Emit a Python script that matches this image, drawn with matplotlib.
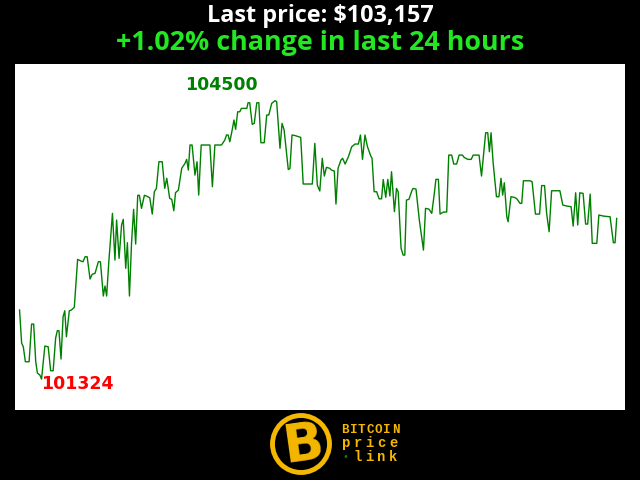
import numpy as np
import matplotlib
matplotlib.use("Agg")
import matplotlib.pyplot as plt
from matplotlib.patches import Circle

# minutes since start of the 24h window
minutes = [0, 5, 9, 14, 23, 29, 34, 39, 43, 49, 53, 61, 69, 75, 81, 87, 91, 95, 100, 105,
           109, 113, 120, 125, 132, 140, 148, 153, 158, 163, 170, 175, 182, 190, 195, 202, 206, 210, 215, 224,
           230, 234, 240, 246, 250, 256, 260, 265, 270, 275, 280, 285, 289, 294, 301, 306, 314, 320, 325, 330,
           336, 344, 350, 355, 362, 367, 372, 376, 383, 391, 399, 403, 407, 411, 416, 423, 428, 432, 438, 459,
           465, 471, 487, 495, 499, 503, 507, 513, 517, 521, 526, 531, 535, 548, 551, 555, 561, 566, 572, 577,
           582, 590, 596, 601, 608, 616, 620, 628, 633, 638, 648, 652, 657, 664, 678, 684, 706, 712, 718, 724,
           730, 735, 740, 748, 752, 759, 763, 768, 775, 779, 785, 793, 801, 809, 817, 822, 827, 833, 839, 847,
           850, 855, 861, 867, 873, 877, 883, 888, 893, 897, 904, 909, 913, 920, 925, 929, 933, 939, 946, 949,
           956, 964, 974, 979, 987, 994, 1000, 1004, 1010, 1014, 1022, 1030, 1035, 1042, 1047, 1054, 1060, 1068, 1072, 1081,
           1089, 1094, 1108, 1114, 1124, 1129, 1133, 1137, 1142, 1150, 1156, 1161, 1165, 1169, 1175, 1178, 1185, 1193, 1199, 1207,
           1211, 1215, 1231, 1236, 1244, 1254, 1259, 1266, 1271, 1277, 1283, 1303, 1310, 1319, 1330, 1335, 1341, 1346, 1351, 1359,
           1365, 1370, 1376, 1381, 1392, 1397, 1408, 1424, 1432, 1436, 1440]

prices = [102112, 101735, 101693, 101522, 101522, 101952, 101952, 101522, 101393, 101370, 101324, 101701, 101693, 101419, 101419, 101792, 101876, 101876, 101553, 102035,
          102104, 101807, 102104, 102112, 102143, 102690, 102671, 102663, 102720, 102720, 102466, 102519, 102531, 102663, 102663, 102272, 102386, 102272, 102648, 103215,
          102682, 103139, 102702, 103082, 103147, 102588, 102880, 102272, 102873, 103261, 102865, 103421, 103421, 103272, 103421, 103413, 103393, 103207, 103462, 103500,
          103804, 103804, 103500, 103615, 103386, 103375, 103245, 103450, 103481, 103729, 103786, 103831, 103709, 103995, 103995, 103652, 103804, 103424, 103995, 103995,
          103519, 103995, 103995, 104052, 104109, 104109, 104032, 104174, 104280, 104174, 104374, 104374, 104413, 104413, 104477, 104477, 104231, 104242, 104477, 104477,
          104021, 104021, 104337, 104337, 104470, 104500, 104489, 103957, 104242, 104166, 103715, 103726, 104109, 104103, 104082, 103550, 103550, 104014, 103538, 103470,
          103843, 103641, 103740, 103729, 103709, 103698, 103321, 103729, 103823, 103843, 103778, 103861, 103975, 104006, 104006, 104109, 103831, 104109, 103975, 103869,
          103843, 103462, 103462, 103381, 103381, 103601, 103398, 103603, 103413, 103690, 103234, 103500, 103462, 102816, 102739, 102739, 103367, 103375, 103473, 103500,
          103492, 103139, 102796, 103272, 103264, 103215, 103435, 103603, 103603, 103207, 103230, 103230, 103880, 103880, 103778, 103778, 103880, 103880, 103854, 103831,
          103831, 103880, 103880, 103641, 104135, 104135, 103918, 104135, 103793, 103405, 103405, 103615, 103424, 103564, 103176, 103119, 103405, 103398, 103382, 103329,
          103329, 103587, 103587, 103576, 103207, 103207, 103532, 103532, 103215, 103005, 103473, 103473, 103310, 103299, 103291, 103070, 103450, 103082, 103450, 103443,
          103093, 103093, 103435, 102873, 102873, 103196, 103184, 103176, 102880, 102880, 103157]

last_price = prices[-1]
change_pct = 1.02

fig = plt.figure(figsize=(6.4, 4.8), dpi=100, facecolor="black")
ax = fig.add_axes([15 / 640, 70 / 480, 610 / 640, 346 / 480])
ax.set_facecolor("white")
ax.plot(minutes, prices, color="green", linewidth=1)

lo, hi = min(prices), max(prices)
span = hi - lo
ax.set_xlim(-11, 1460)
ax.set_ylim(lo - 0.111 * span, hi + 0.132 * span)
ax.set_xticks([]), ax.set_yticks([])
for s in ax.spines.values():
    s.set_visible(False)

imin = int(np.argmin(prices))
ax.text(minutes[imin], lo - 0.016 * span, str(lo), color="red", fontsize=12.5,
        fontweight="bold", ha="left", va="center")
ax.text(400, hi + 0.058 * span, str(hi), color="green", fontsize=12.5,
        fontweight="bold", ha="left", va="center")

fig.text(0.5, 1 - 16 / 480, "Last price: ${:,}".format(last_price), color="white",
         fontsize=16.8, fontweight="bold", family="Open Sans", ha="center", va="center")
fig.text(0.5, 1 - 43 / 480, "+{:.2f}% change in last 24 hours".format(change_pct),
         color="#22e822", fontsize=19.4, fontweight="bold", family="Open Sans",
         ha="center", va="center")

# logo
gold = "#f5b800"
lax = fig.add_axes([0, 0, 1, 70 / 480])
lax.set_xlim(0, 640)
lax.set_ylim(70, 0)
lax.axis("off")
lax.add_patch(Circle((301, 34), 28.5, fill=False, edgecolor=gold, linewidth=3.5))
lax.text(303, 35, "B", color=gold, fontsize=38, fontweight="bold", family="DejaVu Sans",
         ha="center", va="center", rotation=8)


def spaced(x0, y, word, step, size, color=gold):
    for i, ch in enumerate(word):
        lax.text(x0 + i * step, y, ch, color=color, fontsize=size, fontweight="bold",
                 family="Liberation Mono", ha="center", va="center")


spaced(345, 20, "BITCOIN", 8.4, 9)
spaced(346, 33, "price", 11.8, 10)
lax.text(345, 47, "\u2022", color="green", fontsize=7, ha="center", va="center")
spaced(358, 47, "link", 11.8, 10)

fig.savefig("out.png", dpi=100, facecolor="black")
